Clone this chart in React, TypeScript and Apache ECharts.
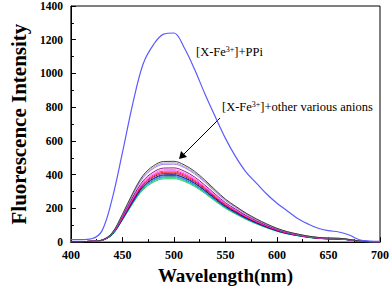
import React, { useEffect, useRef } from "react";
import * as echarts from "echarts";

const wavelengths = [400, 410, 420, 430, 440, 450, 460, 470, 480, 490, 500, 510, 520, 530, 540, 550, 560, 570, 580, 590, 600, 610, 620, 630, 640, 650, 660, 670, 680, 690, 700];

const ppi = [15, 15, 20, 65, 255, 530, 820, 1055, 1170, 1233, 1240, 1152, 1025, 880, 745, 615, 505, 415, 350, 285, 230, 185, 140, 108, 82, 68, 60, 42, 14, 6, 4];

const anion1 = [3, 3, 5, 12, 55, 165, 290, 395, 452, 478, 479, 458, 420, 368, 310, 255, 212, 172, 138, 108, 82, 62, 48, 36, 28, 24, 23, 16, 7, 3, 2];
const anion2 = [3, 3, 5, 12, 54, 162, 285, 388, 443, 469, 470, 449, 412, 361, 304, 250, 208, 169, 135, 106, 80, 61, 47, 35, 27, 24, 22, 16, 7, 3, 2];
const anion3 = [3, 3, 5, 11, 53, 159, 280, 381, 436, 461, 462, 442, 405, 355, 299, 246, 205, 166, 133, 104, 79, 60, 46, 35, 27, 23, 22, 15, 7, 3, 2];
const anion4 = [3, 3, 5, 11, 51, 152, 267, 363, 415, 439, 440, 421, 386, 338, 285, 234, 195, 158, 127, 99, 75, 57, 44, 33, 26, 22, 21, 15, 6, 3, 2];
const anion5 = [3, 3, 5, 11, 50, 149, 261, 355, 406, 429, 430, 411, 377, 330, 278, 229, 190, 154, 124, 97, 74, 56, 43, 32, 25, 22, 21, 14, 6, 3, 2];
const anion6 = [3, 3, 5, 11, 48, 145, 255, 348, 398, 421, 422, 403, 370, 324, 273, 225, 187, 152, 122, 95, 72, 55, 42, 32, 25, 21, 20, 14, 6, 3, 2];
const anion7 = [3, 3, 5, 11, 48, 143, 251, 342, 391, 414, 415, 397, 364, 319, 268, 221, 184, 149, 120, 94, 71, 54, 42, 31, 24, 21, 20, 14, 6, 3, 2];
const anion8 = [3, 3, 5, 11, 47, 141, 247, 337, 385, 407, 408, 390, 358, 314, 264, 217, 181, 147, 118, 92, 70, 53, 41, 31, 24, 20, 20, 14, 6, 3, 2];
const anion9 = [3, 3, 5, 11, 46, 138, 242, 330, 377, 399, 400, 382, 351, 307, 259, 213, 177, 144, 115, 90, 68, 52, 40, 30, 23, 20, 19, 13, 6, 3, 2];
const anion10 = [3, 3, 5, 11, 45, 136, 239, 326, 373, 394, 395, 378, 347, 304, 256, 210, 175, 142, 114, 89, 68, 51, 40, 30, 23, 20, 19, 13, 6, 2, 2];
const anion11 = [3, 3, 5, 10, 45, 134, 235, 320, 366, 387, 388, 371, 340, 298, 251, 207, 172, 139, 112, 87, 66, 50, 39, 29, 23, 19, 19, 13, 6, 2, 2];
const anion12 = [3, 3, 5, 10, 44, 132, 231, 315, 360, 381, 382, 365, 335, 293, 247, 203, 169, 137, 110, 86, 65, 49, 38, 29, 22, 19, 18, 13, 6, 2, 2];
const anion13 = [3, 3, 5, 10, 43, 130, 228, 310, 355, 375, 376, 360, 330, 289, 243, 200, 166, 135, 108, 85, 64, 49, 38, 28, 22, 19, 18, 13, 5, 2, 2];

const anionSeries = [anion13, anion12, anion11, anion10, anion9, anion8, anion7, anion6, anion5, anion4, anion3, anion2, anion1];
const anionColors = ["#22cc22", "#00cccc", "#008080", "#2040ff", "#000080", "#990033", "#ff0000", "#ff00ff", "#ff66cc", "#800080", "#9966ff", "#a0a0a0", "#303030"];

const xTicks = [400, 450, 500, 550, 600, 650, 700];
const yTicks = [0, 200, 400, 600, 800, 1000, 1200, 1400];

const SERIF = "Liberation Serif";

export default function App() {
  const ref = useRef<HTMLDivElement>(null);
  useEffect(() => {
    if (!ref.current) return;
    const chart = echarts.init(ref.current, null, { renderer: "svg" });
    const toPairs = (arr: number[]) => wavelengths.map((w, i) => [w, arr[i]]);
    const series: any[] = anionSeries.map((arr, i) => ({
      type: "line",
      data: toPairs(arr),
      smooth: 0.35,
      showSymbol: false,
      lineStyle: { width: 0.9, color: anionColors[i] },
      z: 2,
    }));
    series.push({
      type: "line",
      data: toPairs(ppi),
      smooth: 0.35,
      showSymbol: false,
      lineStyle: { width: 1.2, color: "#5b5bff" },
      z: 3,
    });
    chart.setOption({
      animation: false,
      backgroundColor: "#ffffff",
      grid: { left: 60, right: 11, top: 6, bottom: 46, show: true, borderColor: "#000", borderWidth: 1 },
      xAxis: {
        type: "value",
        min: xTicks[0],
        max: xTicks[xTicks.length - 1],
        interval: 50,
        name: "Wavelength(nm)",
        nameLocation: "middle",
        nameGap: 22,
        nameTextStyle: { fontFamily: SERIF, fontWeight: "bold", fontSize: 19, color: "#000" },
        axisLine: { lineStyle: { color: "#000", width: 1 } },
        axisTick: { inside: true, length: 5, lineStyle: { color: "#000" } },
        minorTick: { show: true, splitNumber: 2, length: 3, lineStyle: { color: "#000" } },
        splitLine: { show: false },
        axisLabel: { fontFamily: SERIF, fontWeight: "bold", fontSize: 12, color: "#000", margin: 7, formatter: (v: number) => String(v) },
      },
      yAxis: {
        type: "value",
        min: yTicks[0],
        max: yTicks[yTicks.length - 1],
        interval: 200,
        name: "Fluorescence Intensity",
        nameLocation: "middle",
        nameGap: 40,
        nameTextStyle: { fontFamily: SERIF, fontWeight: "bold", fontSize: 21, color: "#000" },
        axisLine: { show: true, lineStyle: { color: "#000", width: 1 } },
        axisTick: { show: true, inside: true, length: 5, lineStyle: { color: "#000" } },
        minorTick: { show: true, splitNumber: 2, length: 3, lineStyle: { color: "#000" } },
        splitLine: { show: false },
        axisLabel: { fontFamily: SERIF, fontWeight: "bold", fontSize: 11.5, color: "#000", margin: 8, formatter: (v: number) => String(v) },
      },
      series,
      graphic: [
        {
          type: "text",
          left: 196,
          top: 45,
          style: {
            text: "[X-Fe{sup|3+}]+PPi",
            fontFamily: SERIF,
            fontSize: 12.5,
            fill: "#000",
            rich: { sup: { fontSize: 8, verticalAlign: "top", fontFamily: SERIF, padding: [0, 0, 6, 0] } },
          },
        },
        {
          type: "text",
          left: 222,
          top: 100,
          style: {
            text: "[X-Fe{sup|3+}]+other various anions",
            fontFamily: SERIF,
            fontSize: 12.5,
            fill: "#000",
            rich: { sup: { fontSize: 8, verticalAlign: "top", fontFamily: SERIF, padding: [0, 0, 6, 0] } },
          },
        },
        {
          type: "line",
          shape: { x1: 220, y1: 118, x2: 183, y2: 155 },
          style: { stroke: "#000", lineWidth: 1 },
        },
        {
          type: "polygon",
          shape: { points: [[179, 159], [181, 151], [187, 157]] },
          style: { fill: "#000" },
        },
      ],
    });
    return () => chart.dispose();
  }, []);
  return <div ref={ref} style={{ position: "fixed", left: 0, top: 0, width: 392, height: 290 }} />;
}
